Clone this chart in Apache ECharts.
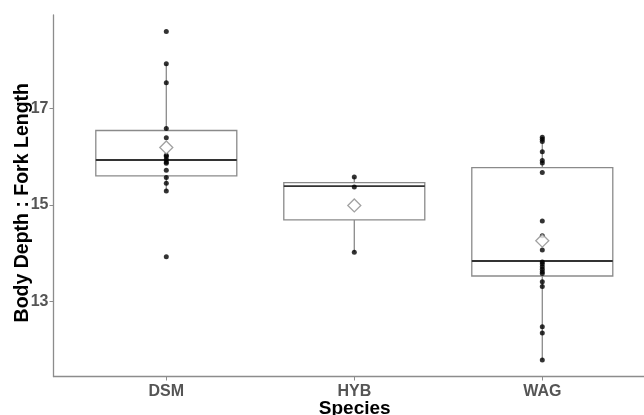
<!DOCTYPE html>
<html>
<head>
<meta charset="utf-8">
<script src="https://cdn.jsdelivr.net/npm/echarts@6/dist/echarts.min.js"></script>
<style>
html,body{margin:0;padding:0;background:#fff;}
#chart{width:644px;height:415px;}
</style>
</head>
<body>
<div id="chart"></div>
<script>
// ---- data ----
const categories = ['DSM', 'HYB', 'WAG'];
const dsmValues = [18.59, 17.92, 17.53, 16.58, 16.39, 16.03, 16.00, 15.94, 15.89, 15.86, 15.72, 15.57, 15.45, 15.29, 13.93];
const hybValues = [15.58, 15.37, 14.02];
const wagValues = [16.40, 16.36, 16.31, 16.10, 15.92, 15.87, 15.67, 14.67, 14.36, 14.07, 13.82, 13.78, 13.72, 13.67, 13.62, 13.58, 13.41, 13.31, 12.48, 12.35, 11.79];
const whiskerLow = [15.29, 14.02, 11.79];
const boxQ1 = [15.60, 14.69, 13.53];
const boxMedian = [15.93, 15.39, 13.84];
const boxQ3 = [16.54, 15.46, 15.77];
const whiskerHigh = [17.92, 15.58, 16.40];
const meanValues = [16.19, 14.99, 14.26];
const yTicks = [13, 15, 17];
const xTicks = [1, 2, 3];

const groups = [dsmValues, hybValues, wagValues];
const pointData = [];
groups.forEach((arr, i) => arr.forEach(v => pointData.push([i + 1, v])));
const boxData = categories.map((c, i) => [i + 1, whiskerLow[i], boxQ1[i], boxMedian[i], boxQ3[i], whiskerHigh[i]]);
const meanData = meanValues.map((v, i) => [i + 1, v]);

const FONT = 'Liberation Sans';
const BOX_HALF = 0.375;

function renderBox(params, api) {
  const x = api.value(0);
  const low = api.coord([x, api.value(1)]);
  const q1 = api.coord([x, api.value(2)]);
  const med = api.coord([x, api.value(3)]);
  const q3 = api.coord([x, api.value(4)]);
  const high = api.coord([x, api.value(5)]);
  const left = api.coord([x - BOX_HALF, api.value(3)])[0];
  const right = api.coord([x + BOX_HALF, api.value(3)])[0];
  const boxStyle = { stroke: '#8a8a8a', lineWidth: 1.3, fill: '#fff' };
  const lineStyle = { stroke: '#8a8a8a', lineWidth: 1.3 };
  return {
    type: 'group',
    children: [
      { type: 'line', shape: { x1: low[0], y1: low[1], x2: q1[0], y2: q1[1] }, style: lineStyle },
      { type: 'line', shape: { x1: q3[0], y1: q3[1], x2: high[0], y2: high[1] }, style: lineStyle },
      { type: 'rect', shape: { x: left, y: q3[1], width: right - left, height: q1[1] - q3[1] }, style: boxStyle },
      { type: 'line', shape: { x1: left, y1: med[1], x2: right, y2: med[1] }, style: { stroke: '#333', lineWidth: 1.8 } }
    ]
  };
}

const chart = echarts.init(document.getElementById('chart'));
chart.setOption({
  animation: false,
  backgroundColor: '#fff',
  grid: { left: 53.5, right: 0, top: 15, bottom: 38.5, containLabel: false, outerBoundsMode: 'none' },
  xAxis: {
    type: 'value',
    min: 0.4,
    max: 3.541,
    splitLine: { show: false },
    axisLine: { show: true, onZero: false, lineStyle: { color: '#8c8c8c', width: 1.3 } },
    axisTick: { show: true, customValues: xTicks, length: 4, lineStyle: { color: '#8c8c8c' } },
    axisLabel: {
      customValues: xTicks,
      formatter: v => categories[Math.round(v) - 1] || '',
      margin: 7,
      color: '#555',
      fontFamily: FONT,
      fontWeight: 'bold',
      fontSize: 16
    },
    name: 'Species',
    nameLocation: 'middle',
    nameGap: 23,
    nameMoveOverlap: false,
    nameTextStyle: { color: '#000', fontFamily: FONT, fontWeight: 'bold', fontSize: 19, padding: [0, 0, 0, 12] }
  },
  yAxis: {
    type: 'value',
    min: 11.45,
    max: 18.93,
    splitLine: { show: false },
    axisLine: { show: true, onZero: false, lineStyle: { color: '#8c8c8c', width: 1.3 } },
    axisTick: { show: true, customValues: yTicks, length: 4, lineStyle: { color: '#8c8c8c' } },
    axisLabel: {
      customValues: yTicks,
      margin: 5,
      color: '#555',
      fontFamily: FONT,
      fontWeight: 'bold',
      fontSize: 16
    },
    name: 'Body Depth : Fork Length',
    nameLocation: 'middle',
    nameGap: 21,
    nameMoveOverlap: false,
    nameTextStyle: { color: '#000', fontFamily: FONT, fontWeight: 'bold', fontSize: 19.5, padding: [0, 14, 0, 0] }
  },
  series: [
    {
      type: 'custom',
      renderItem: renderBox,
      data: boxData,
      encode: { x: 0, y: [1, 2, 3, 4, 5] },
      z: 1
    },
    {
      type: 'scatter',
      data: pointData,
      symbol: 'circle',
      symbolSize: 5,
      itemStyle: { color: '#000' },
      z: 2
    },
    {
      type: 'scatter',
      data: meanData,
      symbol: 'diamond',
      symbolSize: 13,
      itemStyle: { color: '#fff', borderColor: '#8a8a8a', borderWidth: 1.3 },
      z: 3
    }
  ]
});
</script>
</body>
</html>
